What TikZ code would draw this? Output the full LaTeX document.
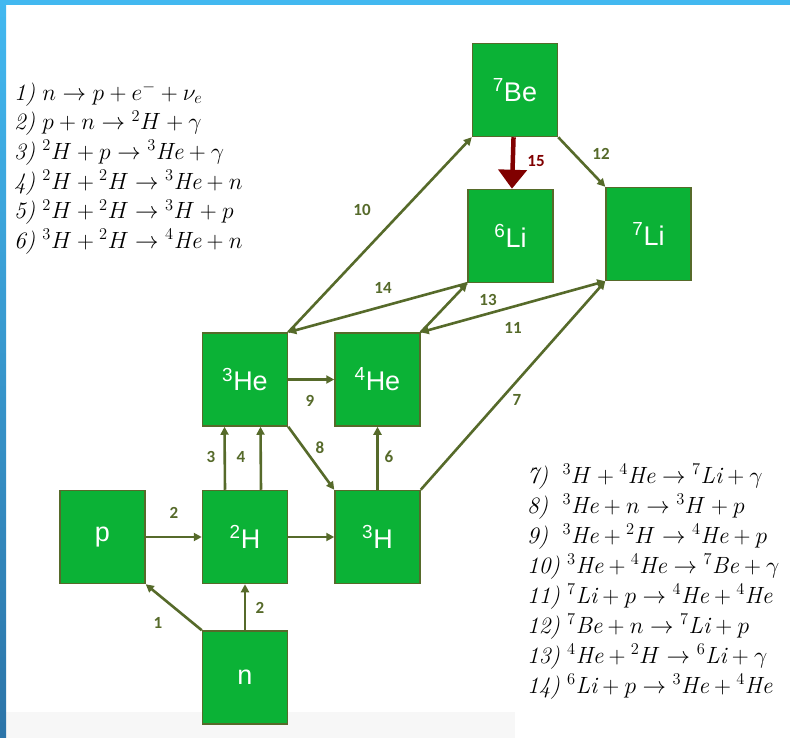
\RequirePackage{fix-cm}
\documentclass[tikz,border=0pt]{standalone}
\usepackage{fontspec}
\newfontfamily\boxfont{Liberation Sans}
\newfontfamily\lblfont{Carlito}
\usetikzlibrary{arrows.meta,positioning}
\definecolor{nucgreen}{RGB}{11,178,54}
\definecolor{olivedk}{RGB}{86,106,42}
\definecolor{darkred}{RGB}{128,0,0}
\definecolor{barblue}{RGB}{66,184,240}
\definecolor{barblue2}{RGB}{44,116,168}
\tikzset{
  nuc/.style  ={draw=olivedk, fill=nucgreen, line width=1.5pt, minimum width=85pt,
                minimum height=93pt, inner sep=0pt, text=white,
                font=\boxfont\fontsize{27}{30}\selectfont},
  lbl/.style  ={font=\lblfont\bfseries\fontsize{17}{18}\selectfont, text=olivedk, inner sep=1pt},
  eqs/.style  ={align=left, anchor=north west, inner sep=0pt, font=\fontsize{23.5}{29.6}\selectfont},
  ar/.style   ={-{Triangle[length=8pt,width=8pt]}, draw=olivedk, line width=2.6pt},
  arb/.style  ={{Triangle[length=8pt,width=8pt]}-{Triangle[length=8pt,width=8pt]}, draw=olivedk, line width=2.6pt},
  arr/.style  ={-{Triangle[length=19pt,width=28pt]}, draw=darkred, line width=4.5pt},
}

\begin{document}
\begin{tikzpicture}[x=1pt, y=-1pt]
\useasboundingbox (0,0) rectangle (790,738);
\fill[white] (0,0) rectangle (790,738);
\fill[black!3] (6,712) rectangle (515,738);
\shade[top color=barblue, bottom color=barblue2] (0,0) rectangle (6,738);
\fill[barblue] (0,0) rectangle (790,5);

% nuclei
\node[nuc] (p) at (102.5,537) {p};
\node[nuc, right=56pt of p] (h2) {\textsuperscript{2}H};
\node[nuc, right=46pt of h2] (h3) {\textsuperscript{3}H};
\node[nuc, below=46pt of h2] (n) {n};
\node[nuc, above=63pt of h2] (he3) {\textsuperscript{3}He};
\node[nuc, right=46pt of he3] (he4) {\textsuperscript{4}He};
\node[nuc] (be7) at (515,90) {\textsuperscript{7}Be};
\node[nuc] (li6) at (510.5,236) {\textsuperscript{6}Li};
\node[nuc] (li7) at (648.5,234) {\textsuperscript{7}Li};

% reactions
\draw[ar] (n.north west) -- (p.south east);
\draw[ar] (n) -- (h2);
\draw[ar] (p) -- (h2);
\draw[ar] (h2) -- (h3);
\draw[ar] ([xshift=-20pt]h2.north) -- ([xshift=-20.5pt]he3.south);
\draw[ar] ([xshift=16pt]h2.north) -- ([xshift=15.5pt]he3.south);
\draw[ar] (he3) -- (he4);
\draw[ar] (he3.south east) -- (h3.north west);
\draw[ar] (h3) -- (he4);
\draw[ar] (h3.north east) -- (li7.south west);
\draw[ar] (he3.north east) -- (be7.south west);
\draw[ar] (li6.south west) -- (he3.north east);
\draw[ar] (he4.north east) -- (li6.south west);
\draw[arb] (he4.north east) -- (li7.south west);
\draw[ar] (be7.south east) -- (li7.north west);
\draw[arr] (be7) -- (li6);

% reaction numbers
\node[lbl] (l1) at (158,623) {1};
\node[lbl] (l2a) at (260,608) {2};
\node[lbl] (l2b) at (174,513) {2};
\node[lbl] (l3) at (211,457) {3};
\node[lbl] (l4) at (241,457) {4};
\node[lbl] (l6) at (389,457) {6};
\node[lbl] (l7) at (517,400) {7};
\node[lbl] (l8) at (320,448) {8};
\node[lbl] (l9) at (310,401) {9};
\node[lbl] (l10) at (362,210) {10};
\node[lbl] (l11) at (513,328) {11};
\node[lbl] (l12) at (601,154) {12};
\node[lbl] (l13) at (488,300) {13};
\node[lbl] (l14) at (383,288) {14};
\node[lbl, text=darkred] (l15) at (536,161) {15};

% reaction list
\node[eqs] (eqa) at (14,82) {%
\textit{1)} $n \rightarrow p + e^{-} + \nu_e$\\
\textit{2)} $p + n \rightarrow {}^{2}H + \gamma$\\
\textit{3)} ${}^{2}H + p \rightarrow {}^{3}\mathit{He} + \gamma$\\
\textit{4)} ${}^{2}H + {}^{2}H \rightarrow {}^{3}\mathit{He} + n$\\
\textit{5)} ${}^{2}H + {}^{2}H \rightarrow {}^{3}H + p$\\
\textit{6)} ${}^{3}H + {}^{2}H \rightarrow {}^{4}\mathit{He} + n$};
\node[eqs, font=\fontsize{23.5}{30}\selectfont] (eqb) at (527,464) {%
\textit{7)}\ \ ${}^{3}H + {}^{4}\mathit{He} \rightarrow {}^{7}\mathit{Li} + \gamma$\\
\textit{8)}\ \ ${}^{3}\mathit{He} + n \rightarrow {}^{3}H + p$\\
\textit{9)}\ \ ${}^{3}\mathit{He} + {}^{2}H \rightarrow {}^{4}\mathit{He} + p$\\
\textit{10)} ${}^{3}\mathit{He} + {}^{4}\mathit{He} \rightarrow {}^{7}\mathit{Be} + \gamma$\\
\textit{11)} ${}^{7}\mathit{Li} + p \rightarrow {}^{4}\mathit{He} + {}^{4}\mathit{He}$\\
\textit{12)} ${}^{7}\mathit{Be} + n \rightarrow {}^{7}\mathit{Li} + p$\\
\textit{13)} ${}^{4}\mathit{He} + {}^{2}H \rightarrow {}^{6}\mathit{Li} + \gamma$\\
\textit{14)} ${}^{6}\mathit{Li} + p \rightarrow {}^{3}\mathit{He} + {}^{4}\mathit{He}$};
\end{tikzpicture}
\end{document}
